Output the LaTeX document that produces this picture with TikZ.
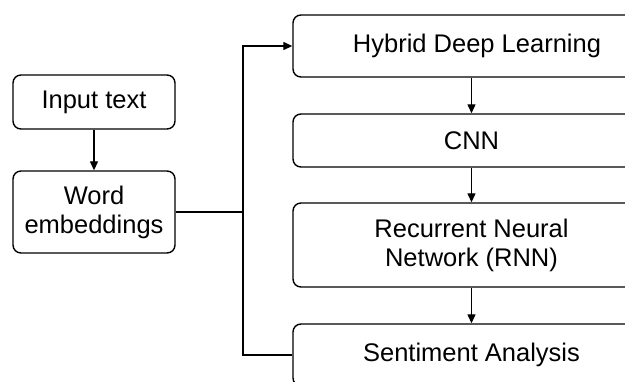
\documentclass[tikz,border=0pt]{standalone}
\usepackage{fontspec}
\setmainfont{Liberation Sans}
\usetikzlibrary{arrows.meta}
\begin{document}
\begin{tikzpicture}[x=1pt,y=-1pt,
 box/.style={draw, line width=1.4pt, rounded corners=8pt, inner sep=0pt, align=center, font=\fontsize{25.5}{29}\selectfont},
 arr/.style={line width=1.3pt, -{Triangle[length=9pt,width=8pt]}},
 ln/.style={line width=1.3pt}]
\useasboundingbox (0,0) rectangle (625,381);
\clip (0,0) rectangle (625,381);
\node[box, minimum width=162pt, minimum height=54pt] (input) at (94,102) {Input text};
\node[box, minimum width=162pt, minimum height=82pt] (word) at (94,212) {Word\\embeddings};
\node[box, minimum width=357pt, minimum height=62pt] (hybrid) at (471.5,46) {\hspace*{11pt}Hybrid Deep Learning};
\node[box, minimum width=357pt, minimum height=53pt] (cnn) at (471.5,140.5) {CNN};
\node[box, minimum width=357pt, minimum height=84pt] (rnn) at (471.5,245) {Recurrent Neural\\Network (RNN)};
\node[box, minimum width=357pt, minimum height=62pt] (senti) at (471.5,355) {Sentiment Analysis};
\coordinate (jn) at (243,212);
\draw[arr] (input) -- (word);
\draw[ln] (word.east) -- (word.east -| jn);
\draw[arr] (word.east -| jn) |- (hybrid.west);
\draw[ln] (word.east -| jn) |- (senti.west);
\draw[arr] (hybrid) -- (cnn);
\draw[arr] (cnn) -- (rnn);
\draw[arr] (rnn) -- (senti);
\end{tikzpicture}
\end{document}
